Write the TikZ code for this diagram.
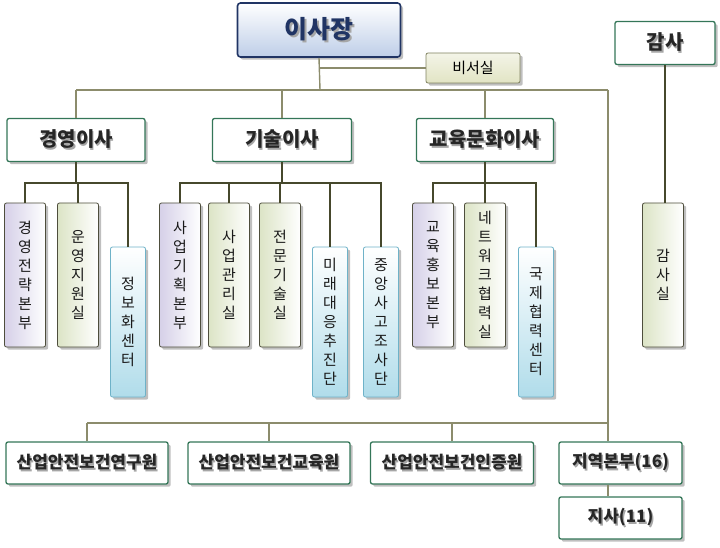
\documentclass[tikz,border=0pt]{standalone}
\usepackage{fontspec}
\setmainfont{Noto Sans CJK KR}
\usepackage{tikz}
\usetikzlibrary{
  positioning,
  shadows
}
\definecolor{navyline}{RGB}{32, 52, 100}
\definecolor{chairblue}{RGB}{190, 206, 232}
\definecolor{dirgreen}{RGB}{52, 118, 88}
\definecolor{secline}{RGB}{128, 130, 96}
\definecolor{secfill}{RGB}{226, 228, 196}
\definecolor{subline}{RGB}{78, 78, 60}
\definecolor{lavfill}{RGB}{214, 208, 232}
\definecolor{grnfill}{RGB}{220, 228, 198}
\definecolor{bluefill}{RGB}{176, 220, 234}
\definecolor{blueline}{RGB}{110, 178, 200}
\definecolor{linkdark}{RGB}{70, 72, 44}
\definecolor{linklight}{RGB}{140, 140, 108}

% text with a soft shadow
\newcommand{\shtxt}[1]{\leavevmode\rlap{\kern1.5pt\raisebox{-1.5pt}{\textcolor{black!35}{#1}}}#1}

\begin{document}
\begin{tikzpicture}[
  x=1pt, y=-1pt,
  chairbox/.style={draw=navyline, line width=1.6pt, rounded corners=3pt,
                   top color=white, bottom color=chairblue, drop shadow,
                   minimum width=163pt, minimum height=54pt, inner sep=0pt,
                   text=navyline, font=\fontsize{25}{28}\selectfont\bfseries},
  dirbox/.style={draw=dirgreen, line width=1.3pt, rounded corners=2pt,
                 fill=white, drop shadow, minimum height=43pt, inner sep=0pt,
                 text=black!85, font=\fontsize{20}{22}\selectfont\bfseries},
  unitbox/.style={dirbox, minimum height=42pt, font=\fontsize{17}{20}\selectfont\bfseries},
  secbox/.style={draw=secline, line width=0.8pt, rounded corners=2pt,
                 top color=secfill!40!white, bottom color=secfill, drop shadow,
                 minimum width=94pt, minimum height=30pt, inner sep=0pt,
                 font=\fontsize{15}{18}\selectfont},
  subbox/.style={draw=subline, line width=0.8pt, rounded corners=2pt,
                 drop shadow, minimum width=41pt, minimum height=144pt,
                 inner sep=0pt, align=center, text=black!90,
                 font=\fontsize{15}{19}\selectfont},
  lavbox/.style={subbox, left color=lavfill, right color=white},
  grnbox/.style={subbox, left color=grnfill, right color=white},
  bluebox/.style={subbox, draw=blueline, top color=white, bottom color=bluefill,
                  minimum width=35pt, minimum height=150pt},
  link/.style={draw=linkdark, line width=1.2pt},
  mainlink/.style={draw=linklight, line width=1.4pt}
]
\useasboundingbox (0,0) rectangle (720,548);

% top
\node[chairbox] (chair) at (319, 30) {\shtxt{이사장}};
\node[secbox] (sec) at (473, 68) {비서실};
\node[dirbox, minimum width=100pt] (audit) at (665, 43) {\shtxt{감사}};

% directors
\node[dirbox, minimum width=138pt] (mgmt) at (76, 140) {\shtxt{경영이사}};
\node[dirbox, minimum width=139pt] (tech) at (282, 140) {\shtxt{기술이사}};
\node[dirbox, minimum width=137pt] (edu) at (485, 140) {\shtxt{교육문화이사}};

% divisions
\node[lavbox] (m1) at (25, 275) {경\\영\\전\\략\\본\\부};
\node[grnbox] (m2) at (78, 275) {운\\영\\지\\원\\실};
\node[bluebox] (m3) at (128, 322) {정\\보\\화\\센\\터};

\node[lavbox] (t1) at (180, 275) {사\\업\\기\\획\\본\\부};
\node[grnbox] (t2) at (229, 275) {사\\업\\관\\리\\실};
\node[grnbox] (t3) at (280, 275) {전\\문\\기\\술\\실};
\node[bluebox] (t4) at (330, 322) {미\\래\\대\\응\\추\\진\\단};
\node[bluebox] (t5) at (381, 322) {중\\앙\\사\\고\\조\\사\\단};

\node[lavbox] (e1) at (433, 275) {교\\육\\홍\\보\\본\\부};
\node[grnbox] (e2) at (485, 275) {네\\트\\워\\크\\협\\력\\실};
\node[bluebox] (e3) at (536, 322) {국\\제\\협\\력\\센\\터};

\node[grnbox] (a1) at (663, 275) {감\\사\\실};

% affiliated bodies
\node[unitbox, minimum width=162pt] (inst) at (87, 463) {\shtxt{산업안전보건연구원}};
\node[unitbox, minimum width=162pt] (acad) at (269, 463) {\shtxt{산업안전보건교육원}};
\node[unitbox, minimum width=163pt] (cert) at (452, 463) {\shtxt{산업안전보건인증원}};
\node[unitbox, minimum width=123pt] (region) at (620.5, 463) {\shtxt{지역본부(16)}};
\node[unitbox, minimum width=123pt] (branch) at (620.5, 518) {\shtxt{지사(11)}};

\coordinate (hub) at (320, 90);
\coordinate (trunk) at (608, 90);
\coordinate (lowbus) at (608, 423);
\coordinate (mbus) at (76, 183);
\coordinate (tbus) at (282, 183);
\coordinate (ebus) at (485, 183);

% chair, secretary, main bus
\draw[mainlink] (chair.south) -- (hub);
\draw[mainlink] (chair.south |- sec.west) -- (sec.west);
\draw[mainlink] (mgmt.north |- hub) -- (trunk);
\draw[mainlink] (mgmt.north) -- (mgmt.north |- hub);
\draw[mainlink] (tech.north) -- (tech.north |- hub);
\draw[mainlink] (edu.north) -- (edu.north |- hub);
\draw[mainlink] (trunk) -- (region.north -| trunk);
\draw[mainlink] (region.south -| trunk) -- (branch.north -| trunk);

% lower bus
\draw[mainlink] (inst.north |- lowbus) -- (lowbus);
\draw[mainlink] (inst.north) -- (inst.north |- lowbus);
\draw[mainlink] (acad.north) -- (acad.north |- lowbus);
\draw[mainlink] (cert.north) -- (cert.north |- lowbus);

% director groups
\draw[link] (mgmt.south) -- (mbus);
\foreach \c in {m1, m2, m3} \draw[link] (\c.north) |- (mbus);
\draw[link] (tech.south) -- (tbus);
\foreach \c in {t1, t2, t3, t4, t5} \draw[link] (\c.north) |- (tbus);
\draw[link] (edu.south) -- (ebus);
\foreach \c in {e1, e2, e3} \draw[link] (\c.north) |- (ebus);
\draw[link] (audit.south) -- (audit.south |- a1.north);

\end{tikzpicture}
\end{document}
